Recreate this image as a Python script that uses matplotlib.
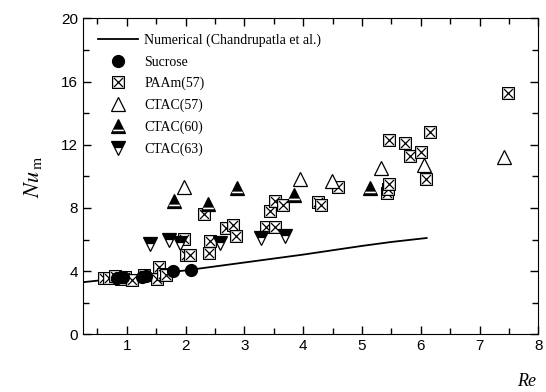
import numpy as np
import matplotlib
matplotlib.use("Agg")
import matplotlib.pyplot as plt
from matplotlib.path import Path
from matplotlib.legend_handler import HandlerTuple

plt.rcParams['mathtext.fontset'] = 'stix'

# numerical prediction (Chandrupatla et al.)
num_re = [0.25, 1.0, 2.0, 3.0, 4.0, 5.0, 5.5, 6.1]
num_nu = [3.3, 3.6, 4.05, 4.55, 5.05, 5.6, 5.85, 6.1]

sucrose_re = [0.83, 0.94, 1.25, 1.32, 1.79, 2.1]
sucrose_nu = [3.6, 3.65, 3.62, 3.7, 4.03, 4.07]

paam_re = [0.62, 0.7, 0.8, 0.9, 0.97, 1.08, 1.3, 1.52, 1.54, 1.62, 1.66,
           1.97, 2.0, 2.08, 2.32, 2.39, 2.41, 2.68, 2.8, 2.85, 3.36, 3.52,
           3.44, 3.52, 3.65, 4.25, 4.31, 4.6,
           5.42, 5.44, 5.46, 5.46, 5.73, 5.81, 6.0, 6.09, 6.16, 7.49]
paam_nu = [3.6, 3.55, 3.7, 3.5, 3.62, 3.42, 3.75, 3.5, 4.25, 3.85, 3.75,
           6.05, 5.05, 5.05, 7.6, 5.15, 5.88, 6.71, 6.94, 6.2, 6.77, 6.82,
           7.82, 8.44, 8.18, 8.39, 8.18, 9.32,
           8.96, 9.2, 9.5, 12.3, 12.14, 11.28, 11.56, 9.81, 12.8, 15.25]

ctac57_re = [1.97, 3.95, 4.49, 5.32, 6.06, 7.42]
ctac57_nu = [9.34, 9.85, 9.72, 10.55, 10.72, 11.24]

ctac60_re = [1.81, 2.38, 2.87, 3.85, 5.13]
ctac60_nu = [8.46, 8.27, 9.27, 8.82, 9.24]

ctac63_re = [1.40, 1.72, 1.90, 2.59, 3.29, 3.69]
ctac63_nu = [5.73, 5.95, 5.78, 5.76, 6.08, 6.22]

# square with a cross inside
box_x = Path([(-1, -1), (1, -1), (1, 1), (-1, 1), (-1, -1),
              (-0.75, -0.75), (0.75, 0.75), (-0.75, 0.75), (0.75, -0.75)],
             [Path.MOVETO, Path.LINETO, Path.LINETO, Path.LINETO, Path.CLOSEPOLY,
              Path.MOVETO, Path.LINETO, Path.MOVETO, Path.LINETO])
# white band near the bottom of the filled up-triangle
# (the two lone MOVETO points keep the same scale as the '^' marker)
band = Path([(-1, -1), (1, 1),
             (-0.72, -0.45), (0.72, -0.45), (0.8, -0.68), (-0.8, -0.68), (-0.72, -0.45)],
            [Path.MOVETO, Path.MOVETO,
             Path.MOVETO, Path.LINETO, Path.LINETO, Path.LINETO, Path.CLOSEPOLY])

fig, ax = plt.subplots(figsize=(5.46, 3.92), dpi=100)
fig.subplots_adjust(left=0.1515, right=0.986, bottom=0.147, top=0.953)

h_num, = ax.plot(num_re, num_nu, color='black', lw=1.3)
h_paam, = ax.plot(paam_re, paam_nu, marker=box_x, ls='none', ms=8.5, mfc='white',
                  mec='black', mew=0.9)
h_suc, = ax.plot(sucrose_re, sucrose_nu, 'o', color='black', ms=8.5, ls='none')
h_57, = ax.plot(ctac57_re, ctac57_nu, '^', ls='none', ms=10, mfc='white',
                mec='black', mew=0.9)
h_60a, = ax.plot(ctac60_re, ctac60_nu, '^', ls='none', ms=10, mfc='black',
                 mec='black', mew=0.9)
h_60b, = ax.plot(ctac60_re, ctac60_nu, marker=band, ls='none', ms=10, mfc='white',
                 mec='none', mew=0)
h_63, = ax.plot(ctac63_re, ctac63_nu, 'v', ls='none', ms=10, mfc='black',
                mec='black', mew=0.9, fillstyle='top', markerfacecoloralt='white')

ax.set_xlim(0.25, 8)
ax.set_ylim(0, 20)
ax.set_xticks(range(1, 9))
ax.set_xticks(np.arange(0.5, 8, 0.5), minor=True)
ax.set_yticks(range(0, 21, 4))
ax.set_yticks(range(2, 20, 4), minor=True)
ax.tick_params(which='both', direction='in', top=True, right=True,
               labelsize=11, width=1)
ax.tick_params(which='major', length=6)
ax.tick_params(which='minor', length=4)
for lab in ax.get_xticklabels() + ax.get_yticklabels():
    lab.set_family('Liberation Sans')

ax.set_ylabel(r'$Nu_{\,\mathrm{m}}$', fontsize=16, labelpad=12)
ax.text(0.975, -0.15, 'Re', transform=ax.transAxes, ha='center', va='center',
        fontsize=13, style='italic', family='Liberation Serif')

ax.legend([h_num, h_suc, h_paam, h_57, (h_60a, h_60b), h_63],
          ['Numerical (Chandrupatla et al.)', 'Sucrose', 'PAAm(57)',
           'CTAC(57)', 'CTAC(60)', 'CTAC(63)'],
          handler_map={tuple: HandlerTuple(ndivide=1)},
          loc='upper left', bbox_to_anchor=(0.012, 0.982), frameon=False,
          prop={'family': 'Liberation Serif', 'size': 10},
          handlelength=2.9, handletextpad=0.45, labelspacing=0.6,
          borderaxespad=0.3)

plt.savefig('out.png', dpi=100)
